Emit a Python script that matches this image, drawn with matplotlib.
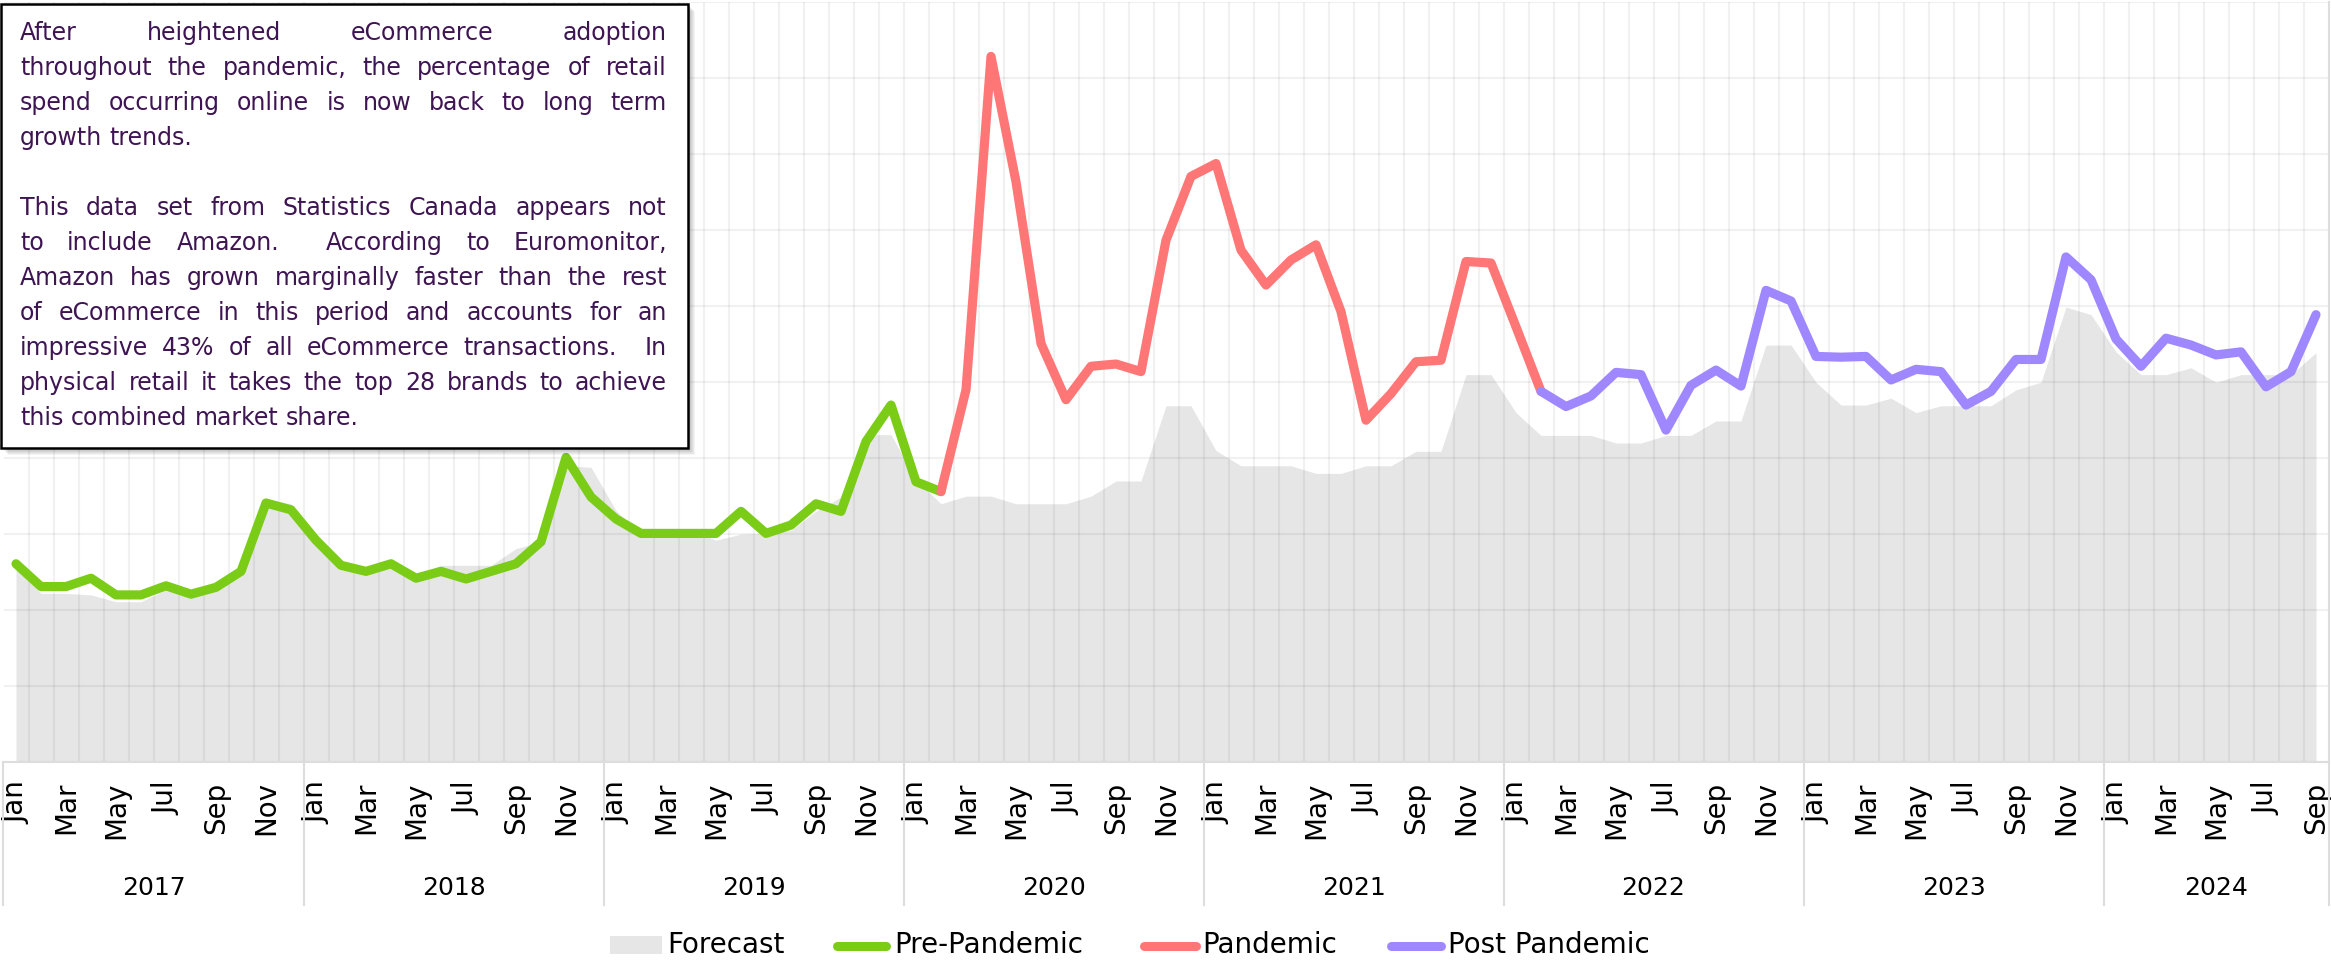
import matplotlib
matplotlib.use("Agg")
import matplotlib.pyplot as plt
from matplotlib.patches import Rectangle
from matplotlib.lines import Line2D
import numpy as np

# ---------------- data ----------------
years = ["2017", "2018", "2019", "2020", "2021", "2022", "2023", "2024"]
month_names = ["Jan", "Feb", "Mar", "Apr", "May", "Jun",
               "Jul", "Aug", "Sep", "Oct", "Nov", "Dec"]

# Pre-Pandemic: Jan 2017 - Feb 2020
pre_pandemic = [2.61, 2.31, 2.31, 2.42, 2.20, 2.20, 2.32, 2.21, 2.30, 2.51, 3.41, 3.32,
                2.92, 2.59, 2.51, 2.61, 2.42, 2.51, 2.41, 2.51, 2.61, 2.90, 4.01, 3.49,
                3.20, 3.01, 3.01, 3.01, 3.01, 3.30, 3.01, 3.12, 3.40, 3.30, 4.22, 4.70,
                3.69, 3.56]
# Pandemic: Feb 2020 - Feb 2022
pandemic = [3.56, 4.90, 9.29, 7.64, 5.51, 4.77, 5.21, 5.24, 5.14, 6.87, 7.71,
            7.88, 6.74, 6.28, 6.61, 6.81, 5.93, 4.50, 4.85, 5.27, 5.29, 6.59, 6.57,
            5.73, 4.88]
# Post Pandemic: Feb 2022 - Sep 2024
post_pandemic = [4.88, 4.68, 4.82, 5.13, 5.10, 4.37, 4.96, 5.16, 4.95, 6.21, 6.07,
                 5.34, 5.33, 5.34, 5.03, 5.17, 5.14, 4.70, 4.88, 5.30, 5.30, 6.65, 6.35,
                 5.57, 5.21, 5.58, 5.49, 5.36, 5.40, 4.94, 5.14, 5.89]
# Forecast: Jan 2017 - Sep 2024
forecast = [2.58, 2.22, 2.22, 2.20, 2.11, 2.11, 2.27, 2.19, 2.27, 2.45, 3.46, 3.40,
            2.90, 2.60, 2.50, 2.68, 2.47, 2.59, 2.59, 2.59, 2.81, 2.90, 3.90, 3.88,
            3.31, 3.00, 3.00, 3.05, 2.92, 3.00, 3.01, 3.05, 3.30, 3.49, 4.31, 4.31,
            3.72, 3.40, 3.50, 3.50, 3.40, 3.40, 3.40, 3.50, 3.70, 3.70, 4.69, 4.69,
            4.10, 3.90, 3.90, 3.90, 3.80, 3.80, 3.90, 3.90, 4.09, 4.09, 5.10, 5.10,
            4.60, 4.30, 4.30, 4.30, 4.20, 4.20, 4.30, 4.30, 4.49, 4.49, 5.49, 5.49,
            5.00, 4.70, 4.70, 4.79, 4.60, 4.69, 4.69, 4.69, 4.90, 5.00, 5.99, 5.89,
            5.40, 5.10, 5.10, 5.19, 5.00, 5.10, 5.10, 5.10, 5.39]

series_names = ["Forecast", "Pre-Pandemic", "Pandemic", "Post Pandemic"]

note_lines = [
    ("After heightened eCommerce adoption", True),
    ("throughout the pandemic, the percentage of retail", True),
    ("spend occurring online is now back to long term", True),
    ("growth trends.", False),
    ("", False),
    ("This data set from Statistics Canada appears not", True),
    ("to include Amazon.  According to Euromonitor,", True),
    ("Amazon has grown marginally faster than the rest", True),
    ("of eCommerce in this period and accounts for an", True),
    ("impressive 43% of all eCommerce transactions.  In", True),
    ("physical retail it takes the top 28 brands to achieve", True),
    ("this combined market share.", False),
]

# ---------------- styling ----------------
C_FORECAST = "#E6E6E6"
C_PRE = "#7ACC17"
C_PAN = "#FF7676"
C_POST = "#9F88FF"
C_TEXT = "#3E1453"
AX_FONT = "DejaVu Sans"
NOTE_FONT = "DejaVu Sans"

W, H = 2331, 966
fig = plt.figure(figsize=(W / 100, H / 100), dpi=100)
fig.patch.set_facecolor("white")


def fpx(x, y):
    """pixel (top-left origin) -> figure fraction"""
    return x / W, 1 - y / H


ax_left, ax_top, ax_right, ax_bottom = 3.5, 2.5, 2328.5, 762
ax = fig.add_axes([ax_left / W, (H - ax_bottom) / H,
                   (ax_right - ax_left) / W, (ax_bottom - ax_top) / H])

n_months = len(forecast)
x_all = np.arange(n_months)

# forecast area
ax.fill_between(x_all, 0, forecast, color=C_FORECAST, lw=0, zorder=1)

# actual series
i_pre = 0
i_pan = i_pre + len(pre_pandemic) - 1
i_post = i_pan + len(pandemic) - 1
lw = 6.6
for start, vals, col in [(i_pre, pre_pandemic, C_PRE),
                         (i_pan, pandemic, C_PAN),
                         (i_post, post_pandemic, C_POST)]:
    ax.plot(np.arange(start, start + len(vals)), vals, color=col, lw=lw,
            solid_capstyle="round", solid_joinstyle="round", zorder=3)

ax.set_xlim(-0.5, n_months - 0.5)
ax.set_ylim(0, 10)

# grid
ax.set_yticks(np.arange(0, 11))
ax.set_yticklabels([])
ax.set_xticks(np.arange(-0.5, n_months, 1), minor=True)
ax.grid(which="minor", axis="x", color="black", alpha=0.055, lw=1.5)
ax.grid(which="major", axis="y", color="black", alpha=0.055, lw=1.5)
ax.set_axisbelow("line")
ax.tick_params(axis="y", length=0)
ax.tick_params(axis="x", which="both", length=0)

# month labels (every other month)
all_month_labels = [m for _ in years for m in month_names][:n_months]
ax.set_xticks(x_all[::2])
ax.set_xticklabels(all_month_labels[::2], rotation=90, fontsize=20,
                   family=AX_FONT, color="black")
ax.tick_params(axis="x", which="major", pad=14)

for s in ["left", "top", "right"]:
    ax.spines[s].set_visible(False)
ax.spines["bottom"].set_color("#DDDDDD")
ax.spines["bottom"].set_linewidth(1.5)

# year labels and separators
axh = ax_bottom - ax_top
trans = ax.get_xaxis_transform()
sep_bottom = -(905 - ax_bottom) / axh
year_y = -(888 - ax_bottom) / axh
for k, yr in enumerate(years):
    start = 12 * k
    end = min(12 * k + 11, n_months - 1)
    ax.text((start + end) / 2, year_y, yr, transform=trans, ha="center",
            va="center", fontsize=18, family=AX_FONT, color="black")
    ax.plot([start - 0.5, start - 0.5], [0, sep_bottom], transform=trans,
            clip_on=False, color="#DDDDDD", lw=1.5)
ax.plot([n_months - 0.5, n_months - 0.5], [sep_bottom, 1], transform=trans,
        clip_on=False, color="#DDDDDD", lw=1.5)

# ---------------- note box ----------------
bx0, by0, bx1, by1 = 1, 4, 688, 448
for k in range(1, 8):
    x0, y0 = fpx(bx0 + k, by1 + k)
    x1, y1 = fpx(bx1 + k, by0 + k)
    fig.add_artist(Rectangle((x0, y0), x1 - x0, y1 - y0, transform=fig.transFigure,
                             facecolor="black", edgecolor="none", alpha=0.045,
                             zorder=5))
x0, y0 = fpx(bx0, by1)
x1, y1 = fpx(bx1, by0)
fig.add_artist(Rectangle((x0, y0), x1 - x0, y1 - y0, transform=fig.transFigure,
                         facecolor="white", edgecolor="black", lw=1.8, zorder=6))

renderer = fig.canvas.get_renderer()
tx_left, tx_right = 20, 667
base0, line_gap = 40, 35


def measure(s, size):
    t = fig.text(0, 0, s, fontsize=size, family=NOTE_FONT)
    w = t.get_window_extent(renderer).width
    t.remove()
    return w


# choose a size so the widest line fits the box naturally
probe = 16.0
widest = max(measure(l, probe) for l, j in note_lines if l)
note_size = min(17.0, probe * (tx_right - tx_left - 2) / widest)

space_w = measure("a a", note_size) - measure("aa", note_size)
for li, (line, justify) in enumerate(note_lines):
    if not line:
        continue
    base_y = base0 + li * line_gap
    tokens = line.split(" ")
    words, weights = [], []
    cnt = 0
    for tk in tokens:
        if tk == "":
            cnt += 1
            continue
        if words:
            weights.append(cnt + 1)
        words.append(tk)
        cnt = 0
    widths = [measure(w, note_size) for w in words]
    if justify and len(words) > 1:
        unit = (tx_right - tx_left - sum(widths)) / sum(weights)
    else:
        unit = space_w
    xpos = tx_left
    for wi, w in enumerate(words):
        fx, fy = fpx(xpos, base_y)
        fig.text(fx, fy, w, fontsize=note_size, family=NOTE_FONT, color=C_TEXT,
                 ha="left", va="baseline", zorder=7)
        xpos += widths[wi]
        if wi < len(weights):
            xpos += unit * weights[wi]

# ---------------- legend ----------------
leg_y = 945
handles = [("rect", 610, 662, C_FORECAST, series_names[0], 667),
           ("line", 837, 886, C_PRE, series_names[1], 894),
           ("line", 1144, 1196, C_PAN, series_names[2], 1202),
           ("line", 1391, 1441, C_POST, series_names[3], 1448)]
for kind, hx0, hx1, col, label, tx in handles:
    if kind == "rect":
        a0, b0 = fpx(hx0, leg_y + 9)
        a1, b1 = fpx(hx1, leg_y - 9)
        fig.add_artist(Rectangle((a0, b0), a1 - a0, b1 - b0,
                                 transform=fig.transFigure, facecolor=col,
                                 edgecolor="none"))
    else:
        a0, b0 = fpx(hx0, leg_y + 1)
        a1, b1 = fpx(hx1, leg_y + 1)
        fig.add_artist(Line2D([a0, a1], [b0, b1], transform=fig.transFigure,
                              color=col, lw=6.5, solid_capstyle="round"))
    fx, fy = fpx(tx, leg_y)
    fig.text(fx, fy, label, fontsize=20, family=AX_FONT, color="black",
             ha="left", va="center")

fig.savefig("out.png", dpi=100, facecolor="white")
